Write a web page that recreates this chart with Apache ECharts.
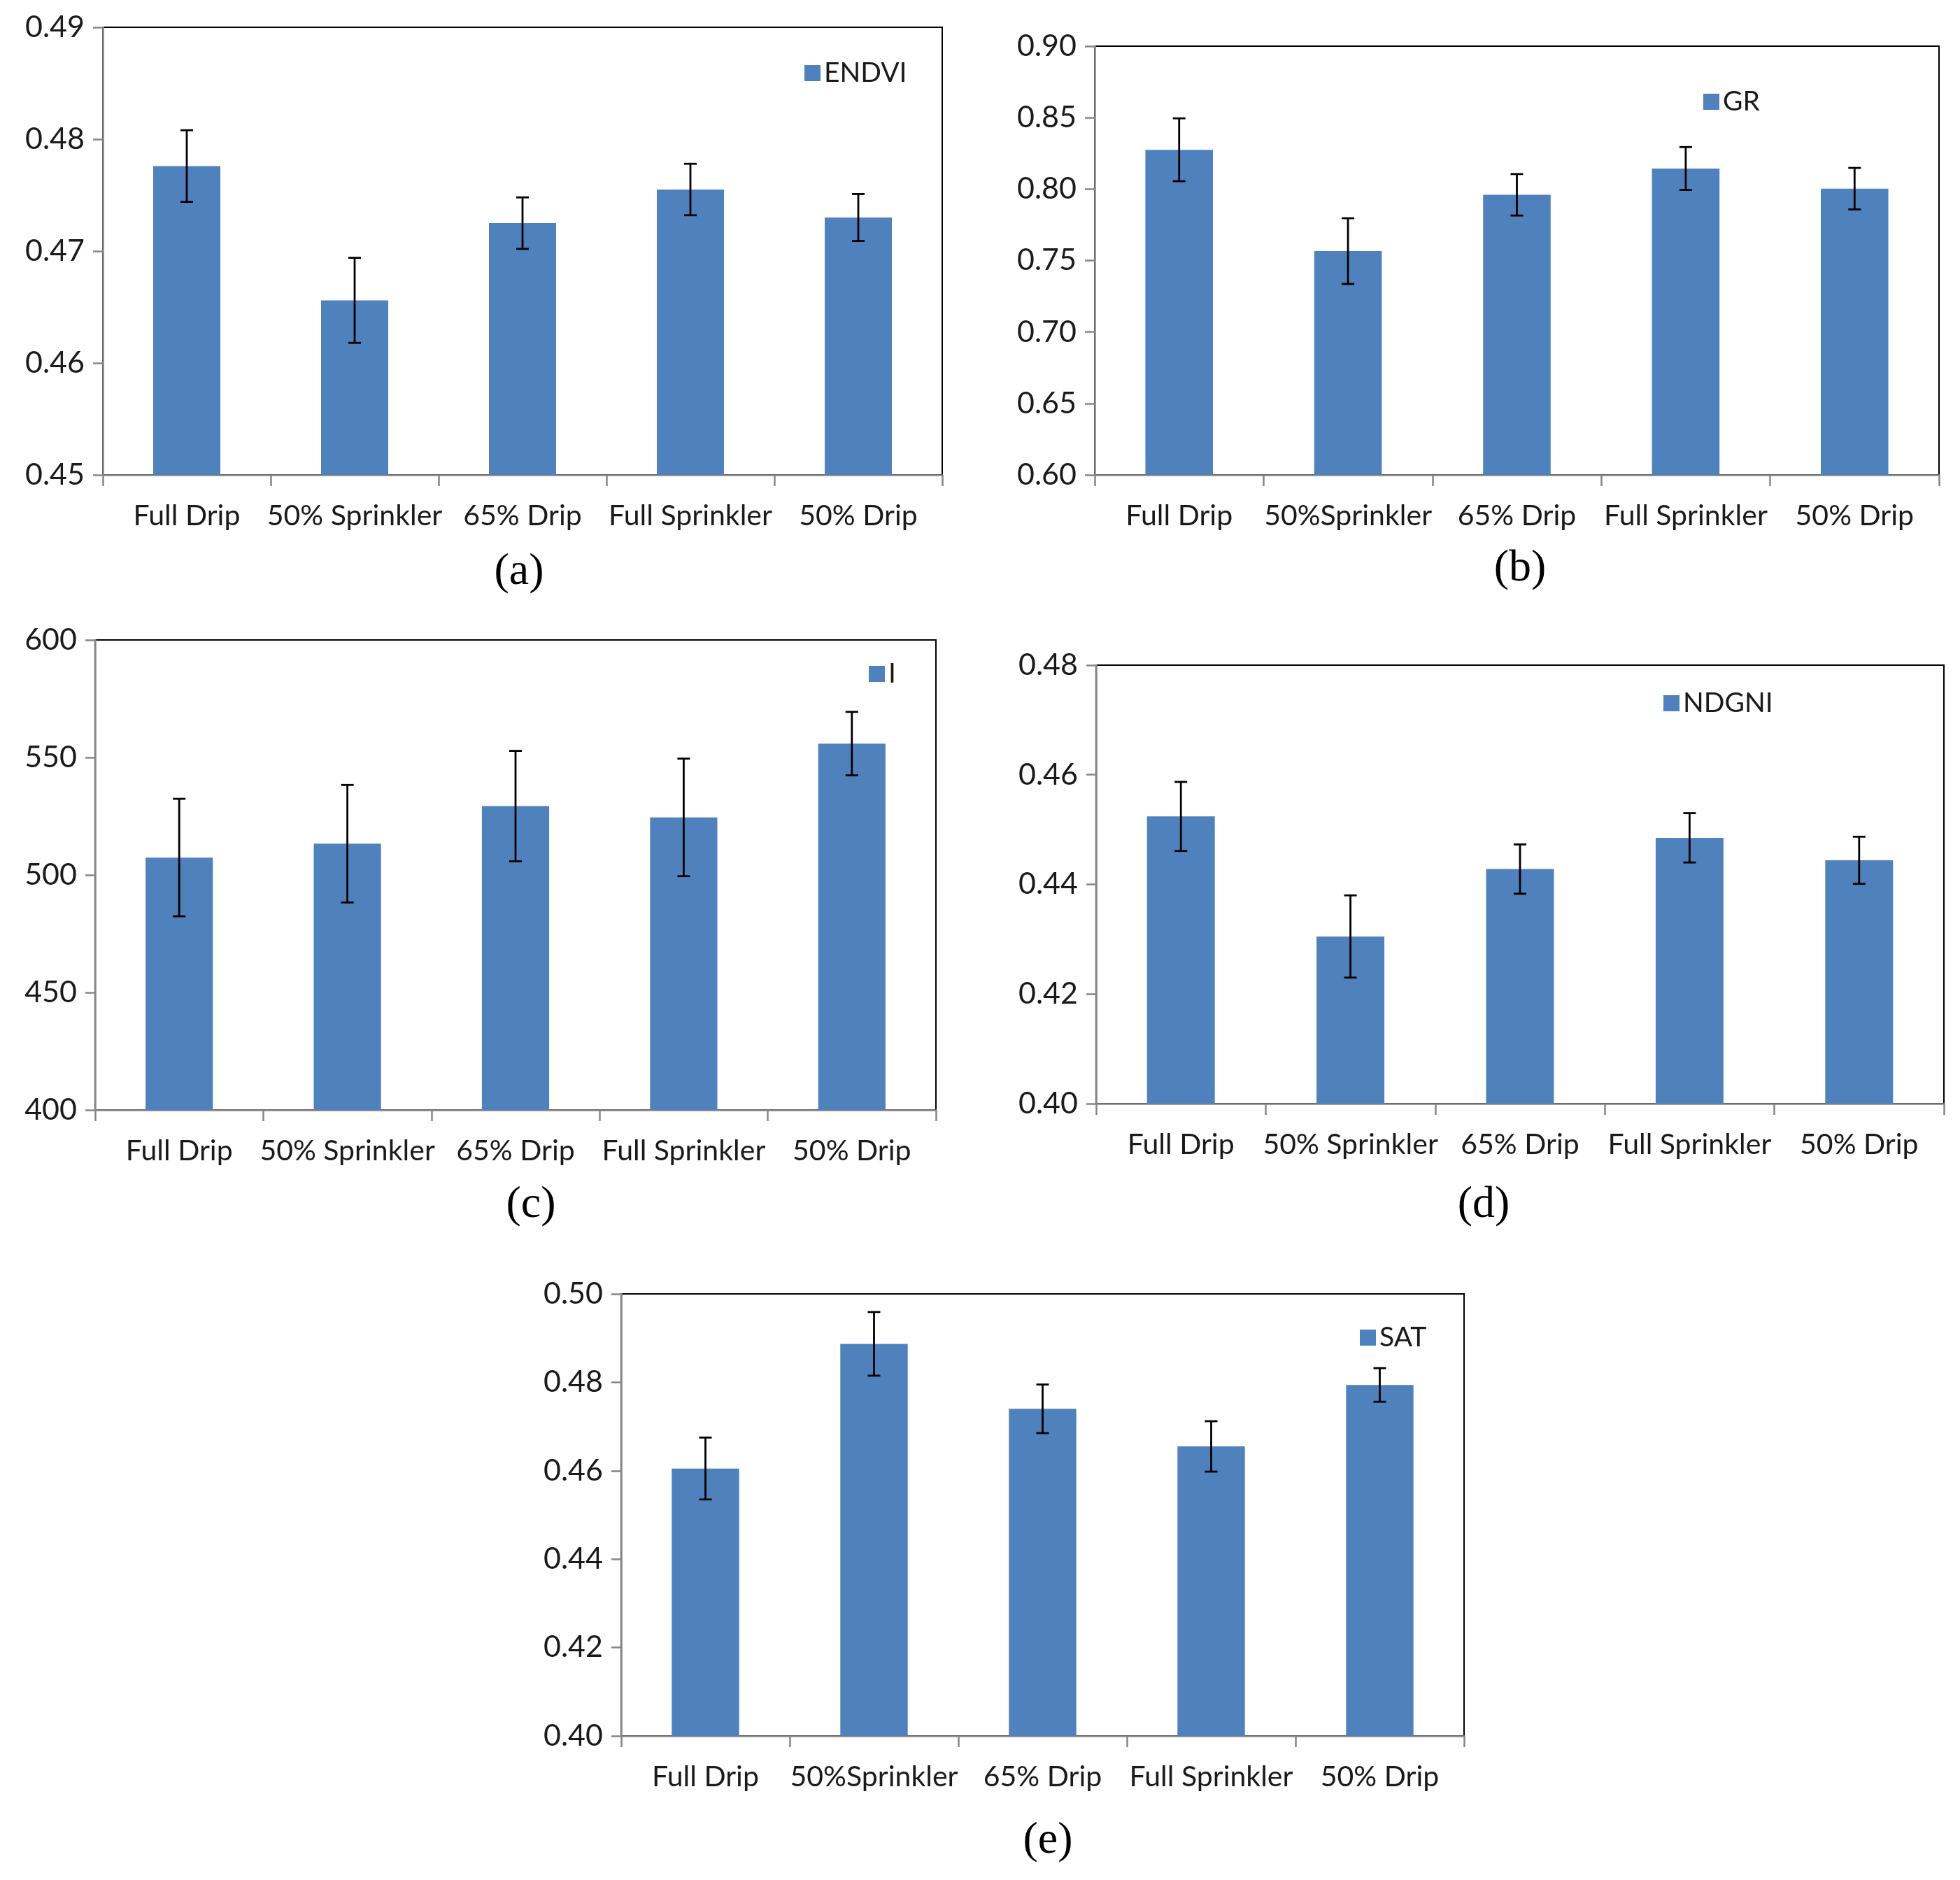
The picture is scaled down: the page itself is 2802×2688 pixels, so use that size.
<!DOCTYPE html>
<html>
<head>
<meta charset="utf-8">
<script src="https://cdn.jsdelivr.net/npm/echarts@6/dist/echarts.min.js"></script>
<style>
html,body{margin:0;padding:0;background:#fff;}
#main{width:2802px;height:2688px;}
</style>
</head>
<body>
<div id="main"></div>
<script>
// ---- data ----
const catsA = ['Full Drip', '50% Sprinkler', '65% Drip', 'Full Sprinkler', '50% Drip'];
const catsB = ['Full Drip', '50%Sprinkler', '65% Drip', 'Full Sprinkler', '50% Drip'];
const catsC = ['Full Drip', '50% Sprinkler', '65% Drip', 'Full Sprinkler', '50% Drip'];
const catsD = ['Full Drip', '50% Sprinkler', '65% Drip', 'Full Sprinkler', '50% Drip'];
const catsE = ['Full Drip', '50%Sprinkler', '65% Drip', 'Full Sprinkler', '50% Drip'];

const endvi = [0.4776, 0.4656, 0.4725, 0.4755, 0.4730];
const endviErr = [0.0032, 0.0038, 0.0023, 0.0023, 0.0021];
const gr = [0.8275, 0.7566, 0.7960, 0.8144, 0.8003];
const grErr = [0.022, 0.023, 0.0145, 0.015, 0.0145];
const iVals = [507.4, 513.3, 529.3, 524.5, 555.9];
const iErr = [25, 25, 23.5, 25, 13.5];
const ndgni = [0.4524, 0.4305, 0.4428, 0.4485, 0.4444];
const ndgniErr = [0.0063, 0.0075, 0.0045, 0.0045, 0.0043];
const sat = [0.4605, 0.4887, 0.4740, 0.4655, 0.4794];
const satErr = [0.0070, 0.0072, 0.0055, 0.0057, 0.0038];

const yA = {min: 0.45, max: 0.49, interval: 0.01, digits: 2};
const yB = {min: 0.60, max: 0.90, interval: 0.05, digits: 2};
const yC = {min: 400, max: 600, interval: 50, digits: 0};
const yD = {min: 0.40, max: 0.48, interval: 0.02, digits: 2};
const yE = {min: 0.40, max: 0.50, interval: 0.02, digits: 2};

// ---- layout ----
const panels = [
  {name: 'ENDVI', cats: catsA, vals: endvi, err: endviErr, y: yA, grid: {left: 147, top: 39, width: 1200, height: 640}, legend: {left: 1145, top: 80}, cap: '(a)', capPos: [742, 818]},
  {name: 'GR', cats: catsB, vals: gr, err: grErr, y: yB, grid: {left: 1565, top: 66, width: 1207, height: 613}, legend: {left: 2430, top: 121}, cap: '(b)', capPos: [2173, 813]},
  {name: 'I', cats: catsC, vals: iVals, err: iErr, y: yC, grid: {left: 136, top: 915, width: 1202, height: 672}, legend: {left: 1237, top: 939}, cap: '(c)', capPos: [759, 1723]},
  {name: 'NDGNI', cats: catsD, vals: ndgni, err: ndgniErr, y: yD, grid: {left: 1567, top: 951, width: 1212, height: 627}, legend: {left: 2373, top: 981}, cap: '(d)', capPos: [2121, 1723]},
  {name: 'SAT', cats: catsE, vals: sat, err: satErr, y: yE, grid: {left: 888, top: 1850, width: 1205, height: 632}, legend: {left: 1939, top: 1888}, cap: '(e)', capPos: [1498, 2632]}
];

const FONT = 'Lato';
const grids = [], xAxes = [], yAxes = [], series = [], legends = [], graphics = [];

panels.forEach((p, i) => {
  grids.push(Object.assign({show: true, borderColor: '#000', borderWidth: 2, containLabel: false}, p.grid));
  xAxes.push({
    type: 'category', gridIndex: i, data: p.cats,
    axisLine: {lineStyle: {color: '#868686', width: 2.5}},
    axisTick: {show: true, length: 16, lineStyle: {color: '#868686', width: 2.5}},
    axisLabel: {color: '#1a1a1a', fontFamily: FONT, fontSize: 41, margin: 38, interval: 0}
  });
  yAxes.push({
    type: 'value', gridIndex: i, min: p.y.min, max: p.y.max, interval: p.y.interval,
    axisLine: {show: true, lineStyle: {color: '#868686', width: 2.5}},
    axisTick: {show: true, length: 14, lineStyle: {color: '#868686', width: 2.5}},
    splitLine: {show: false},
    axisLabel: {color: '#1a1a1a', fontFamily: FONT, fontSize: 43, margin: 26,
      formatter: v => v.toFixed(p.y.digits)}
  });
  series.push({
    name: p.name, type: 'bar', xAxisIndex: i, yAxisIndex: i,
    data: p.vals, barWidth: '40%', itemStyle: {color: '#4F81BD'}
  });
  series.push({
    type: 'custom', xAxisIndex: i, yAxisIndex: i, z: 10,
    data: p.vals.map((v, k) => [k, v, p.err[k]]),
    encode: {x: 0, y: 1},
    renderItem: function (params, api) {
      const k = api.value(0), v = api.value(1), e = api.value(2);
      const hi = api.coord([k, v + e]);
      const lo = api.coord([k, v - e]);
      const cap = 9;
      const st = {stroke: '#000', lineWidth: 2.8};
      return {type: 'group', children: [
        {type: 'line', shape: {x1: hi[0], y1: hi[1], x2: lo[0], y2: lo[1]}, style: st},
        {type: 'line', shape: {x1: hi[0] - cap, y1: hi[1], x2: hi[0] + cap, y2: hi[1]}, style: st},
        {type: 'line', shape: {x1: lo[0] - cap, y1: lo[1], x2: lo[0] + cap, y2: lo[1]}, style: st}
      ]};
    }
  });
  legends.push({
    data: [p.name], left: p.legend.left, top: p.legend.top,
    itemWidth: 23, itemHeight: 23, itemGap: 10, icon: 'rect',
    textStyle: {fontFamily: FONT, fontSize: 39, color: '#1a1a1a'}
  });
  graphics.push({
    type: 'text', x: p.capPos[0], y: p.capPos[1],
    style: {text: p.cap, font: '64px "Liberation Serif"', fill: '#000', textAlign: 'center', textVerticalAlign: 'middle'}
  });
});

const chart = echarts.init(document.getElementById('main'), null, {renderer: 'canvas'});
chart.setOption({
  backgroundColor: '#fff',
  animation: false,
  grid: grids, xAxis: xAxes, yAxis: yAxes, series: series, legend: legends,
  graphic: graphics
});
</script>
</body>
</html>
